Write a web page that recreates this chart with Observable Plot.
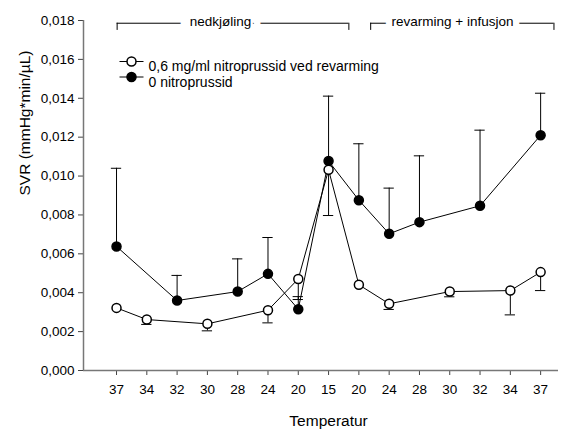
<!DOCTYPE html>
<html><head><meta charset="utf-8">
<script src="https://cdn.jsdelivr.net/npm/d3@7"></script>
<script src="https://cdn.jsdelivr.net/npm/@observablehq/plot@0.6"></script>
<style>
body{margin:0;background:#fff;}
#chart svg{font-family:"Liberation Sans",Arial,sans-serif;background:#fff;}
</style></head><body><div id="chart"></div>
<script>
// x categories (temperature sequence: cooling then rewarming)
const temps = ["37","34","32","30","28","24","20","15","20","24","28","30","32","34","37"];
// 0,6 mg/ml nitroprussid ved revarming (open circles) and lower error bar end
const openMean = [0.00322, 0.00262, null, 0.00240, null, 0.00310, 0.00471, 0.01032, 0.00441, 0.00343, null, 0.00406, null, 0.00411, 0.00506];
const openLow  = [null, 0.00237, null, 0.00204, null, 0.00245, 0.00365, 0.00797, null, 0.00314, null, 0.00379, null, 0.00286, 0.00411];
// 0 nitroprussid (filled circles) and upper error bar end
const filledMean = [0.00638, null, 0.00360, null, 0.00406, 0.00497, 0.00315, 0.01077, 0.00876, 0.00703, 0.00763, null, 0.00847, null, 0.01210];
const filledHigh = [0.01040, null, 0.00489, null, 0.00574, 0.00684, 0.00380, 0.01411, 0.01166, 0.00938, 0.01104, null, 0.01236, null, 0.01426];
const seriesNames = ["0,6 mg/ml nitroprussid ved revarming", "0 nitroprussid"];
const yTicks = [0, 0.002, 0.004, 0.006, 0.008, 0.010, 0.012, 0.014, 0.016, 0.018];
// phase brackets (in category-index units)
const phaseLabels = ["nedkjøling", "revarming + infusjon"];
const phaseStart = [0.02, 8.39];
const phaseEnd = [7.67, 14.44];
const phaseLabelAt = [3.43, 11.09];
const bracketLevel = [0.01786, 0.01749];

const xDomain = [-1.09, 14.59];
const fmt = d => d.toFixed(3).replace(".", ",");

const open = temps.map((t, i) => ({i, v: openMean[i], lo: openLow[i]})).filter(d => d.v != null);
const filled = temps.map((t, i) => ({i, v: filledMean[i], hi: filledHigh[i]})).filter(d => d.v != null);
const phases = phaseLabels.map((label, k) => ({label, from: phaseStart[k], to: phaseEnd[k], at: phaseLabelAt[k]}));
const phaseEnds = phases.flatMap(p => [p.from, p.to]);

const hline = {draw(ctx, size) { const r = Math.sqrt(size / Math.PI); ctx.moveTo(-r, 0); ctx.lineTo(r, 0); }};
const capW = 0.17;

const legendMarks = seriesNames.flatMap((name, k) => [
  Plot.dot([0], {frameAnchor: "top-left", dx: 48, dy: 41 + 15.5 * k, symbol: hline, r: 12, stroke: "black", strokeWidth: 1}),
  Plot.dot([0], {frameAnchor: "top-left", dx: 48, dy: 41 + 15.5 * k, r: 4.5, fill: k === 0 ? "white" : "black", stroke: "black"}),
  Plot.text([name], {frameAnchor: "top-left", dx: 65, dy: 41 + 15.5 * k, textAnchor: "start", fontSize: 14, fill: "black"})
]);

const chart = Plot.plot({
  width: 566,
  height: 439,
  marginLeft: 83,
  marginRight: 8,
  marginTop: 20,
  marginBottom: 69,
  style: {fontFamily: "Liberation Sans, Arial, sans-serif", background: "white"},
  x: {type: "linear", domain: xDomain},
  y: {domain: [0, 0.018]},
  marks: [
    Plot.axisY({ticks: yTicks, tickFormat: fmt, tickSize: 5, tickPadding: 4, fontSize: 13.5, label: null, stroke: "#444", fill: "black"}),
    Plot.axisX({ticks: d3.range(temps.length), tickFormat: i => temps[i], tickSize: 5, tickPadding: 9, fontSize: 13.5, label: null, stroke: "#444", fill: "black"}),
    Plot.ruleY([0], {stroke: "#777", strokeWidth: 1.5}),
    Plot.ruleX([xDomain[0]], {stroke: "#777", strokeWidth: 1.5}),
    Plot.text(["Temperatur"], {x: () => 7, frameAnchor: "bottom", dy: 55, fontSize: 15.5, fill: "black"}),
    Plot.text(["SVR (mmHg*min/µL)"], {frameAnchor: "left", rotate: -90, dx: -58, fontSize: 15.5, fill: "black"}),
    // phase brackets
    Plot.ruleY(phases, {y: () => bracketLevel[0], x1: "from", x2: "to", stroke: "black"}),
    Plot.ruleX(phaseEnds, {x: d => d, y1: bracketLevel[0], y2: bracketLevel[1], stroke: "black"}),
    Plot.text(phases.slice(0, 1), {x: "at", y: () => bracketLevel[0], text: "label", dy: -2, fontSize: 13.5, fill: "black", stroke: "white", strokeWidth: 20}),
    Plot.text(phases.slice(1), {x: "at", y: () => bracketLevel[0], text: "label", dy: -2, fontSize: 13.5, fill: "black", stroke: "white", strokeWidth: 13}),
    // error bars
    Plot.ruleX(filled.filter(d => d.hi != null), {x: "i", y1: "v", y2: "hi", stroke: "black"}),
    Plot.ruleY(filled.filter(d => d.hi != null), {y: "hi", x1: d => d.i - capW, x2: d => d.i + capW, stroke: "black"}),
    Plot.ruleX(open.filter(d => d.lo != null), {x: "i", y1: "v", y2: "lo", stroke: "black"}),
    Plot.ruleY(open.filter(d => d.lo != null), {y: "lo", x1: d => d.i - capW, x2: d => d.i + capW, stroke: "black"}),
    // lines
    Plot.line(filled, {x: "i", y: "v", stroke: "black", strokeWidth: 1}),
    Plot.line(open, {x: "i", y: "v", stroke: "black", strokeWidth: 1}),
    Plot.dot(filled, {x: "i", y: "v", r: 4.5, fill: "black", stroke: "black"}),
    Plot.dot(open, {x: "i", y: "v", r: 4.5, fill: "white", stroke: "black"}),
    ...legendMarks
  ]
});
document.getElementById("chart").appendChild(chart);
</script>
</body></html>
